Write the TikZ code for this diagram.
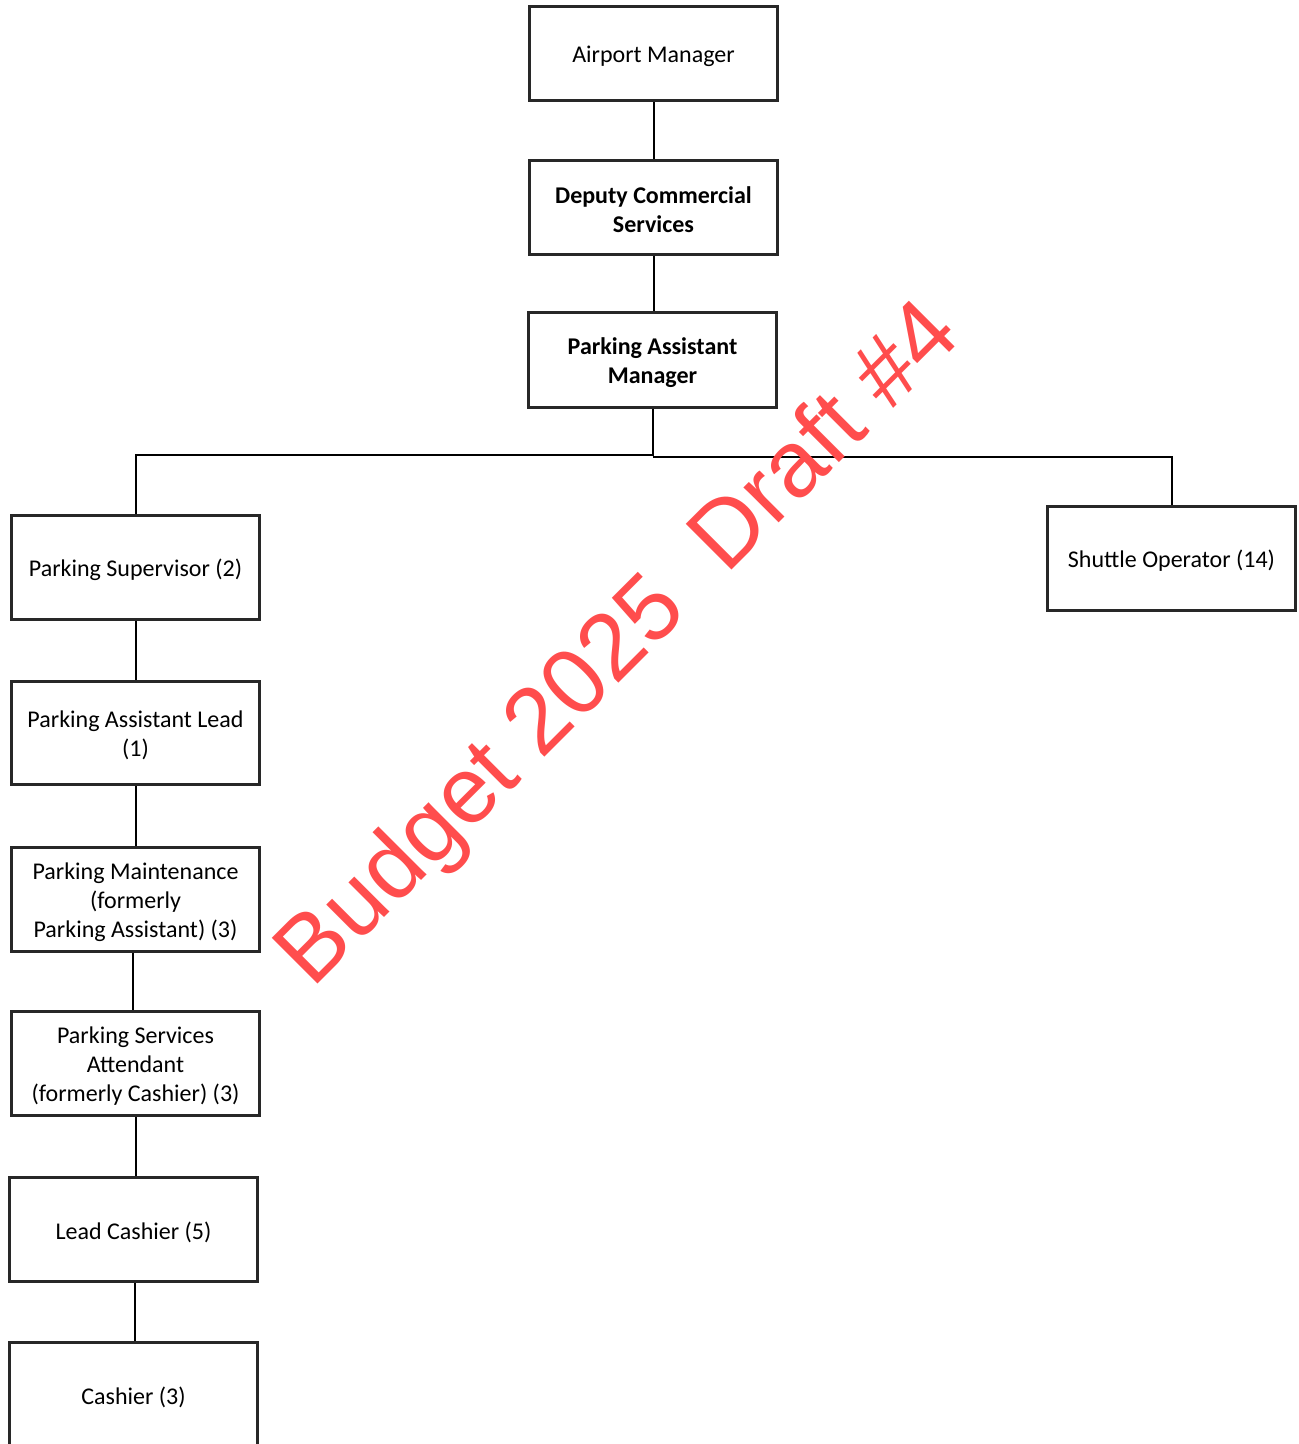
\documentclass[tikz,border=0pt]{standalone}
\usepackage{fontspec}
\setmainfont{Carlito}
\newfontfamily\wmfont{Liberation Sans}
\definecolor{wmred}{RGB}{255,77,77}
\definecolor{boxgray}{RGB}{40,40,40}
\begin{document}
\begin{tikzpicture}[x=0.5pt,y=-0.5pt,
  box/.style={draw=boxgray,line width=1.5pt,minimum width=124pt,minimum height=#1,inner sep=0pt},
  box/.default=47pt,
  txt/.style={align=center,inner sep=0pt,yshift=-1.25pt,font=\fontsize{12}{14.5}\selectfont},
  btxt/.style={txt,font=\fontsize{12}{14.5}\selectfont\bfseries},
  conn/.style={draw=black,line width=1pt}]
\useasboundingbox (0,0) rectangle (1299,1444);
\node[box,label={[txt]center:Airport Manager}] (am) at (653.5,53.5) {};
\node[box,label={[btxt]center:{Deputy Commercial\\Services}}] (dcs) at (653.5,207.5) {};
\node[box,label={[btxt]center:{Parking Assistant\\Manager}}] (pam) at (652.5,360) {};
\node[box=52pt,label={[txt]center:Parking Supervisor (2)}] (ps) at (135.5,567.5) {};
\node[box=52pt,label={[txt]center:Shuttle Operator (14)}] (so) at (1171.5,558.5) {};
\node[box=51.5pt,label={[txt]center:{Parking Assistant Lead\\(1)}}] (pal) at (135.5,733) {};
\node[box=52pt,label={[txt]center:{Parking Maintenance\\(formerly\\Parking Assistant) (3)}}] (pm) at (135.5,899.5) {};
\node[box=52pt,label={[txt]center:{Parking Services\\Attendant\\(formerly Cashier) (3)}}] (psa) at (135.5,1063.5) {};
\node[box=52pt,label={[txt]center:Lead Cashier (5)}] (lc) at (133.5,1229.5) {};
\node[box=52.5pt,label={[txt]center:Cashier (3)}] (ca) at (133.5,1394.5) {};
\draw[conn] (am.south) -- (dcs.north);
\draw[conn] (dcs.south) -- (dcs.south |- pam.north);
\draw[conn] (pam.south) -- (pam.south |- 0,455) -| (ps.north);
\draw[conn] (pam.south |- 0,457) -| (so.north);
\draw[conn] (ps.south) -- (pal.north);
\draw[conn] (pal.south) -- (pm.north);
\draw[conn] ([xshift=-1.25pt]pm.south) -- ([xshift=-1.25pt]psa.north);
\draw[conn] (psa.south) -- (psa.south |- lc.north);
\draw[conn] ([xshift=0.75pt]lc.south) -- ([xshift=0.75pt]ca.north);
\node[text=wmred,font=\wmfont\fontsize{47}{47}\selectfont,rotate=45,anchor=base,inner sep=0pt] (wm) at (638,664) {Budget 2025\ \ Draft \#4};
\end{tikzpicture}
\end{document}
